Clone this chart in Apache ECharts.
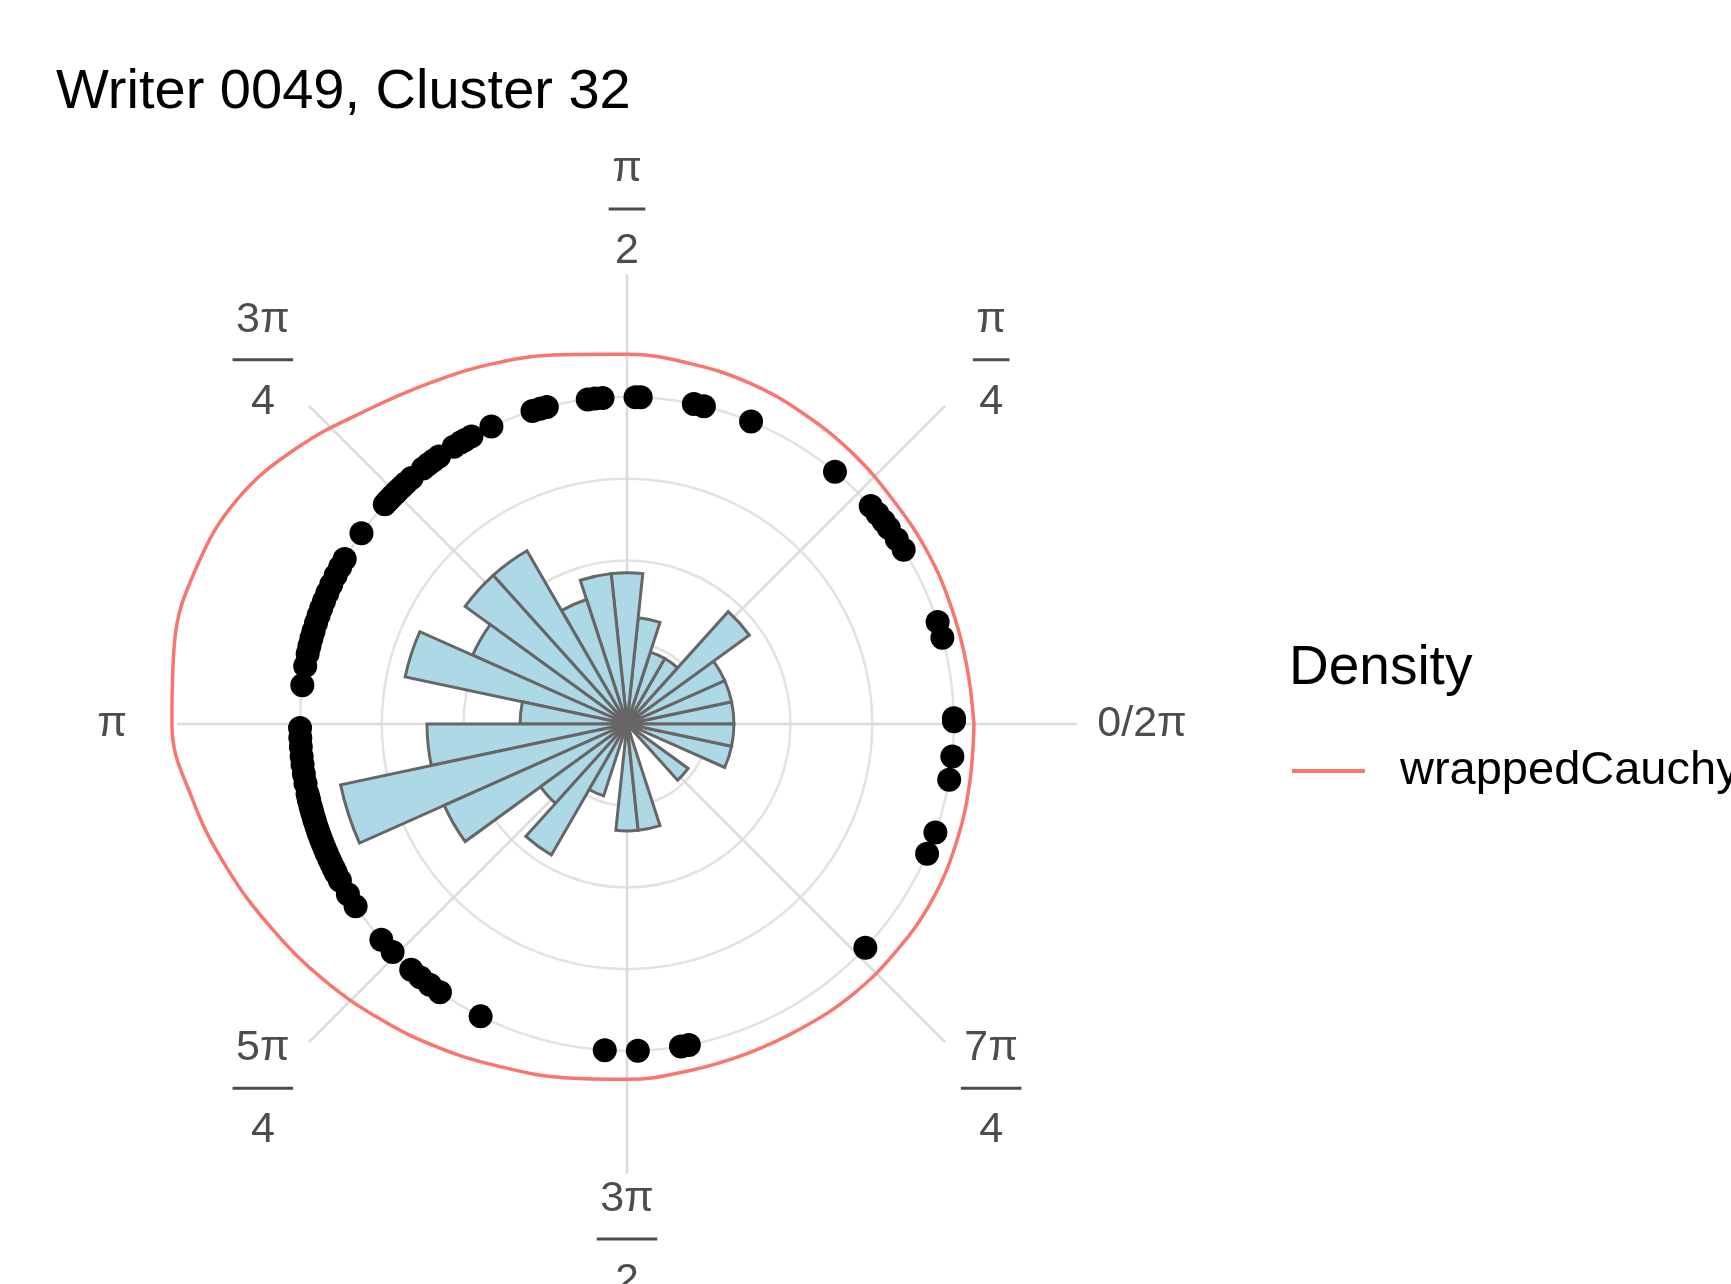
<!DOCTYPE html>
<html>
<head>
<meta charset="utf-8">
<title>Writer 0049, Cluster 32</title>
<script src="https://cdn.jsdelivr.net/npm/echarts@6/dist/echarts.min.js"></script>
<style>
  html, body { margin: 0; padding: 0; background: #ffffff; }
  #chart { width: 1731px; height: 1284px; }
</style>
</head>
<body>
<div id="chart"></div>
<script>
// Histogram bins: start angle of each 12° bin (degrees, counter-clockwise from east)
const binStarts = [0, 12, 24, 36, 48, 60, 72, 84, 96, 108, 120, 132, 144, 156, 168,
                   180, 192, 204, 216, 228, 240, 252, 264, 276, 288, 300, 312, 324, 336, 348];
// Number of observations in each bin
const binCounts = [2, 2, 2, 4, 1, 1, 2, 4, 4, 3, 7, 7, 5, 9, 2,
                   7, 15, 7, 2, 4, 1, 0, 2, 2, 0, 0, 1, 0, 2, 2];

// Individual observed angles (degrees)
const pointAngles = [
  0.5, 1.0,
  15.3, 18.2,
  32.2, 34.4,
  36.8, 38.3, 40.0, 41.8,
  50.5,
  67.7,
  76.4, 78.2,
  87.6, 88.5, 94.3, 95.6,
  96.9, 104.2, 105.4, 106.8,
  114.5, 118.4, 119.7,
  120.6, 122.0, 125.1, 126.3, 127.4, 128.6, 131.2,
  132.6, 133.6, 134.5, 135.3, 136.1, 136.9, 137.8,
  144.3, 149.7, 151.3, 153.0, 154.8,
  156.4, 157.9, 159.3, 160.6, 162.0, 163.5, 164.8, 166.2, 167.6,
  169.8, 173.2,
  180.7, 182.4, 184.0, 185.7, 187.1, 188.8, 190.5,
  192.3, 193.1, 193.6, 194.5, 195.2, 195.9, 196.8, 197.4, 198.3, 199.1, 199.8, 200.6, 201.5, 202.4, 203.3,
  204.4, 205.3, 206.2, 207.1, 208.6, 211.4, 213.9,
  221.3, 224.2,
  228.7, 230.8, 232.9, 235.1,
  243.4,
  266.1, 271.9,
  279.5, 280.9,
  316.8,
  336.6, 340.6,
  350.2, 354.3
];

// Fitted wrapped Cauchy density, drawn as a closed curve (angle in degrees, radius in sqrt-count units)
const densityAngles = [0, 10, 20, 30, 40, 50, 60, 70, 80, 90, 100, 110, 120, 130, 140, 150, 160, 170, 180,
                       190, 200, 210, 220, 230, 240, 250, 260, 270, 280, 290, 300, 310, 320, 330, 340, 350, 360];
const densityRadius = [4.59, 4.56, 4.56, 4.58, 4.60, 4.66, 4.72, 4.79, 4.84, 4.89, 4.96, 5.08, 5.21, 5.40, 5.69,
                       5.95, 6.06, 6.08, 6.02, 5.83, 5.62, 5.42, 5.25, 5.09, 4.95, 4.83, 4.75, 4.70, 4.66,
                       4.64, 4.64, 4.66, 4.66, 4.66, 4.63, 4.60, 4.59];

// Angle-axis tick labels (multiples of π/4)
const tickAngles = [0, 45, 90, 135, 180, 225, 270, 315];
const tickNumerators = ['0/2π', 'π', 'π', '3π', 'π', '5π', '3π', '7π'];
const tickDenominators = ['', '4', '2', '4', '', '4', '2', '4'];

// ---- layout ----
const CX = 627, CY = 724;        // plot centre
const PX_PER_UNIT = 75.6;        // pixels per radius-axis unit
const R_MAX = 5.95;              // radius-axis extent at the panel edge (grid + bars)
const R_MAX_DATA = 6.3;          // wider extent for the points and density curve
const RING_STEP = 1.081;         // spacing of the radial grid circles
const POINT_R = 4.325;           // radius at which observations are drawn
const LABEL_DIST = 515;          // distance of angle labels from centre
const FONT = '"Liberation Sans", Arial, Helvetica, sans-serif';
const TICK_COLOR = '#4d4d4d';
const TICK_SIZE = 43;
const GRID_COLOR = '#e2e2e2';
const NONE = 'rgba(0,0,0,0)';

const panelRadius = R_MAX * PX_PER_UNIT;
const dataRadius = R_MAX_DATA * PX_PER_UNIT;

function tickLabelGraphics() {
  const ctx = document.createElement('canvas').getContext('2d');
  ctx.font = TICK_SIZE + 'px ' + FONT;
  const textStyle = (text, y) => ({
    text: text, x: 0, y: y, align: 'center', verticalAlign: 'middle',
    fontSize: TICK_SIZE, fontFamily: FONT, fill: TICK_COLOR
  });
  return tickAngles.map((deg, i) => {
    const rad = deg * Math.PI / 180;
    const x = CX + LABEL_DIST * Math.cos(rad);
    const y = CY - LABEL_DIST * Math.sin(rad);
    const num = tickNumerators[i];
    const den = tickDenominators[i];
    if (!den) {
      return { type: 'text', x: x, y: y, silent: true, style: textStyle(num, 0) };
    }
    const w = Math.max(ctx.measureText(num).width, ctx.measureText(den).width) + 7;
    return {
      type: 'group', x: x, y: y, silent: true,
      children: [
        { type: 'text', style: textStyle(num, -40) },
        { type: 'rect', shape: { x: -w / 2, y: -1.5, width: w, height: 3 }, style: { fill: TICK_COLOR } },
        { type: 'text', style: textStyle(den, 42) }
      ]
    };
  });
}

const hiddenAxisParts = {
  axisLine: { show: false }, axisTick: { show: false }, axisLabel: { show: false }, splitLine: { show: false }
};

const chart = echarts.init(document.getElementById('chart'), null, { renderer: 'canvas' });

const option = {
  backgroundColor: '#ffffff',
  animation: false,
  title: {
    text: 'Writer 0049, Cluster 32',
    left: 51, top: 60,
    textStyle: { fontFamily: FONT, fontSize: 56, fontWeight: 'normal', color: '#000000' }
  },
  legend: {
    data: [{ name: 'wrappedCauchy', icon: 'rect' }],
    orient: 'vertical',
    left: 1287, top: 741,
    itemWidth: 73, itemHeight: 4,
    selectedMode: false,
    textStyle: { fontFamily: FONT, fontSize: 47, color: '#000000', lineHeight: 48, padding: [0, 0, 2, 30] }
  },
  polar: [
    { center: [CX, CY], radius: panelRadius },   // grid
    { center: [CX, CY], radius: panelRadius },   // histogram
    { center: [CX, CY], radius: dataRadius }     // points + density
  ],
  angleAxis: [
    Object.assign({}, hiddenAxisParts, {
      polarIndex: 0, type: 'value', min: 0, max: 360, interval: 45,
      startAngle: 0, clockwise: false,
      splitLine: { show: true, lineStyle: { color: '#dbdbdb', width: 2.5 } }
    }),
    Object.assign({}, hiddenAxisParts, {
      polarIndex: 1, type: 'category', data: binStarts.map(String), boundaryGap: true,
      startAngle: 0, clockwise: false
    }),
    Object.assign({}, hiddenAxisParts, {
      polarIndex: 2, type: 'value', min: 0, max: 360, startAngle: 0, clockwise: false
    })
  ],
  radiusAxis: [
    Object.assign({}, hiddenAxisParts, {
      polarIndex: 0, type: 'value', min: 0, max: R_MAX, interval: RING_STEP,
      splitLine: {
        show: true,
        lineStyle: { color: [NONE, GRID_COLOR, GRID_COLOR, GRID_COLOR, GRID_COLOR, NONE, NONE, NONE], width: 2.5 }
      }
    }),
    Object.assign({}, hiddenAxisParts, { polarIndex: 1, type: 'value', min: 0, max: R_MAX }),
    Object.assign({}, hiddenAxisParts, { polarIndex: 2, type: 'value', min: 0, max: R_MAX_DATA })
  ],
  graphic: [
    {
      type: 'text', x: 1289, y: 669, silent: true,
      style: { text: 'Density', x: 0, y: 0, align: 'left', verticalAlign: 'middle',
               fontSize: 55, fontFamily: FONT, fill: '#000000' }
    }
  ].concat(tickLabelGraphics()),
  series: [
    {
      name: 'Histogram',
      type: 'bar',
      coordinateSystem: 'polar',
      polarIndex: 1,
      data: binCounts.map(c => Math.sqrt(c)),
      barCategoryGap: '0%',
      itemStyle: { color: '#ADD8E6', borderColor: '#666666', borderWidth: 3 },
      silent: true,
      z: 2
    },
    {
      name: 'Angles',
      type: 'scatter',
      coordinateSystem: 'polar',
      polarIndex: 2,
      data: pointAngles.map(a => [POINT_R, a]),
      symbol: 'circle',
      symbolSize: 24,
      itemStyle: { color: '#000000', opacity: 1 },
      silent: true,
      z: 3
    },
    {
      name: 'wrappedCauchy',
      type: 'line',
      coordinateSystem: 'polar',
      polarIndex: 2,
      data: densityAngles.map((a, i) => [densityRadius[i], a]),
      showSymbol: false,
      smooth: 0.4,
      clip: false,
      lineStyle: { color: '#F8766D', width: 3.5 },
      itemStyle: { color: '#F8766D' },
      silent: true,
      z: 4
    }
  ]
};

chart.setOption(option);
</script>
</body>
</html>
